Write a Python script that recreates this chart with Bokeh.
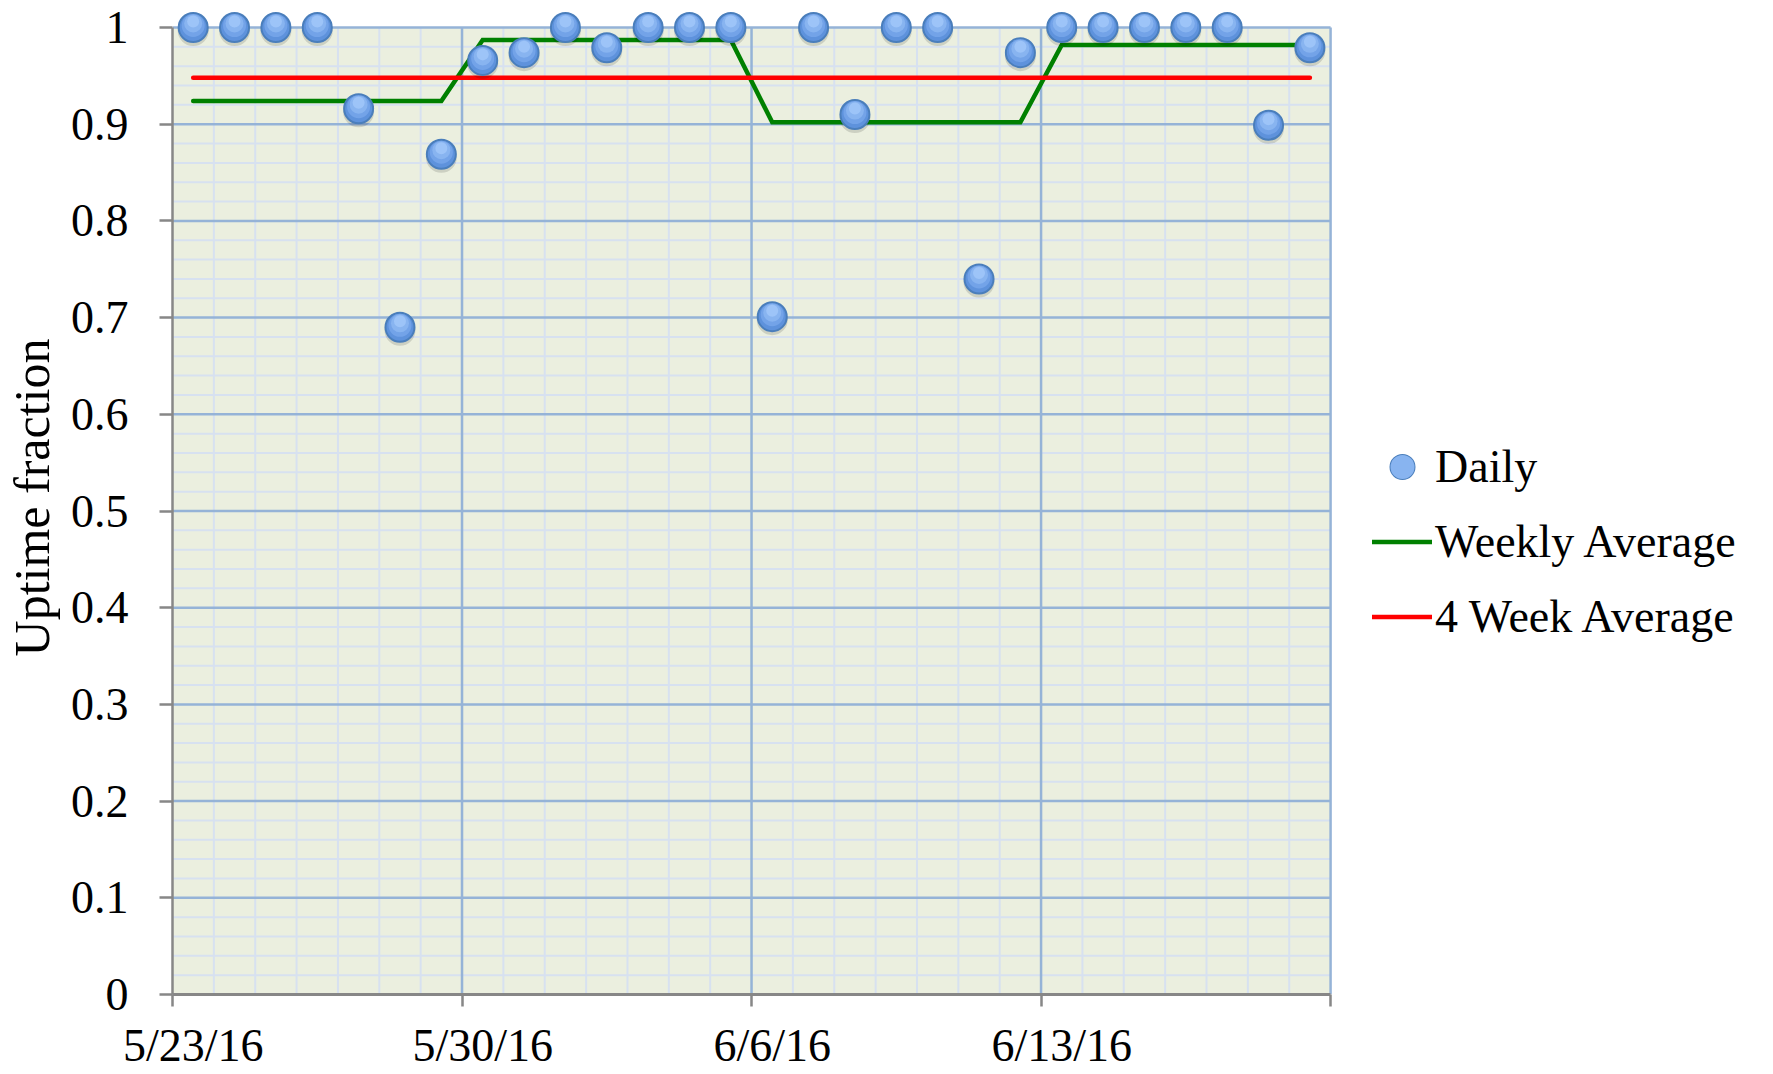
from bokeh.plotting import figure
from bokeh.models import Range1d, FixedTicker, LinearAxis, Legend, LegendItem
from bokeh.embed import file_html
from bokeh.resources import INLINE

# ---------------- data ----------------
dates = ["5/23/16", "5/24/16", "5/25/16", "5/26/16", "5/27/16", "5/28/16", "5/29/16",
         "5/30/16", "5/31/16", "6/1/16", "6/2/16", "6/3/16", "6/4/16", "6/5/16",
         "6/6/16", "6/7/16", "6/8/16", "6/9/16", "6/10/16", "6/11/16", "6/12/16",
         "6/13/16", "6/14/16", "6/15/16", "6/16/16", "6/17/16", "6/18/16", "6/19/16"]

daily_uptime = [1.0, 1.0, 1.0, 1.0, 0.916, 0.690, 0.869,
                0.966, 0.974, 1.0, 0.979, 1.0, 1.0, 1.0,
                0.701, 1.0, 0.910, 1.0, 1.0, 0.740, 0.974,
                1.0, 1.0, 1.0, 1.0, 1.0, 0.899, 0.979]

weekly_average = [0.924, 0.924, 0.924, 0.924, 0.924, 0.924, 0.924,
                  0.987, 0.987, 0.987, 0.987, 0.987, 0.987, 0.987,
                  0.902, 0.902, 0.902, 0.902, 0.902, 0.902, 0.902,
                  0.982, 0.982, 0.982, 0.982, 0.982, 0.982, 0.982]

four_week_average = [0.948, 0.948, 0.948, 0.948, 0.948, 0.948, 0.948,
                     0.948, 0.948, 0.948, 0.948, 0.948, 0.948, 0.948,
                     0.948, 0.948, 0.948, 0.948, 0.948, 0.948, 0.948,
                     0.948, 0.948, 0.948, 0.948, 0.948, 0.948, 0.948]

x_tick_labels = ["5/23/16", "5/30/16", "6/6/16", "6/13/16"]
y_tick_values = [0, 0.1, 0.2, 0.3, 0.4, 0.5, 0.6, 0.7, 0.8, 0.9, 1]
y_tick_labels = ["0", "0.1", "0.2", "0.3", "0.4", "0.5", "0.6", "0.7", "0.8", "0.9", "1"]

# ---------------- layout ----------------
W, H = 1773, 1074
LEFT, BOTTOM = 172, 80
frame_w = W - LEFT
frame_h = H - BOTTOM
day_px = 41.36
unit_px = 967.0
n_days = len(dates)
x_end = frame_w / day_px
y_end = frame_h / unit_px

FONT = "Liberation Serif"
AXIS_GRAY = "#878787"
PLOT_BG = "#EBEFDF"
MINOR_GRID = "#D7E1F0"
MAJOR_GRID = "#95B3D7"

x = [i + 0.5 for i in range(n_days)]

p = figure(width=W, height=H, x_range=Range1d(0, x_end), y_range=Range1d(0, y_end),
           output_backend="svg", toolbar_location=None,
           x_axis_type=None, y_axis_type=None,
           min_border_left=LEFT, min_border_right=0, min_border_top=0,
           min_border_bottom=BOTTOM,
           background_fill_color="white", border_fill_color="white",
           outline_line_color=None)

# plot area background
p.quad(left=[0], right=[n_days], bottom=[0], top=[1],
       fill_color=PLOT_BG, line_color=None)

# grid lines (minor then major)
week_bounds = [d for d in range(0, n_days + 1, 7)]
minor_vx = [d for d in range(1, n_days) if d % 7 != 0]
major_vx = [d for d in week_bounds if d > 0]
minor_hy = [k / 50 for k in range(1, 50) if k % 5 != 0]
major_hy = [v for v in y_tick_values if v > 0]

p.segment(x0=minor_vx, x1=minor_vx, y0=[0] * len(minor_vx), y1=[1] * len(minor_vx),
          line_color=MINOR_GRID, line_width=2)
p.segment(x0=[0] * len(minor_hy), x1=[n_days] * len(minor_hy), y0=minor_hy, y1=minor_hy,
          line_color=MINOR_GRID, line_width=2)
p.segment(x0=[0] * len(major_hy), x1=[n_days] * len(major_hy), y0=major_hy, y1=major_hy,
          line_color=MAJOR_GRID, line_width=2.5)
p.segment(x0=major_vx, x1=major_vx, y0=[0] * len(major_vx), y1=[1] * len(major_vx),
          line_color=MAJOR_GRID, line_width=2.5)

# lines
green = p.line(x, weekly_average, line_color="#008000", line_width=4.5,
               line_cap="round", line_join="miter")
red = p.line(x, four_week_average, line_color="#FF0000", line_width=4.5,
             line_cap="round")

# markers (layered to imitate the gradient bubble)
def off(px):
    return [v + px / unit_px for v in daily_uptime]

p.scatter(x, off(-3), size=31, marker="circle", fill_color="black", fill_alpha=0.13,
          line_color=None)
base = p.scatter(x, daily_uptime, size=29, marker="circle", fill_color="#5E92DC",
                 line_color="#4A7EBB", line_width=2)
p.scatter(x, off(2), size=23, marker="circle", fill_color="#73A3E8", line_color=None)
l3 = p.scatter(x, off(4), size=18, marker="circle", fill_color="#88B4F0", line_color=None)
p.scatter(x, off(6), size=12, marker="circle", fill_color="#9DC4F8", line_color=None)

# ---------------- axes ----------------
y_over = {}
for v, lab in zip(y_tick_values, y_tick_labels):
    y_over[v] = lab
    y_over[str(v)] = lab

yaxis = LinearAxis(ticker=FixedTicker(ticks=y_tick_values, minor_ticks=[]), bounds=(0, 1),
                   major_label_overrides=y_over,
                   axis_label="Uptime fraction",
                   axis_label_text_font=FONT, axis_label_text_font_size="50px",
                   axis_label_text_font_style="normal", axis_label_text_color="black",
                   axis_label_standoff=8,
                   major_label_text_font=FONT, major_label_text_font_size="46px",
                   major_label_text_color="black", major_label_standoff=31,
                   axis_line_color=AXIS_GRAY, axis_line_width=2.5,
                   major_tick_line_color=AXIS_GRAY, major_tick_line_width=2.5,
                   major_tick_out=13, major_tick_in=0,
                   minor_tick_line_color=None)
p.add_layout(yaxis, "left")

# x axis: labels centred on the labelled day, ticks on week boundaries
label_pos = [dates.index(l) + 0.5 for l in x_tick_labels]
x_over = {}
for v, lab in zip(label_pos, x_tick_labels):
    x_over[v] = lab
    x_over[str(v)] = lab

xaxis = LinearAxis(ticker=FixedTicker(ticks=label_pos, minor_ticks=week_bounds),
                   bounds=(0, n_days),
                   major_label_overrides=x_over,
                   major_label_text_font=FONT, major_label_text_font_size="46px",
                   major_label_text_color="black", major_label_standoff=13,
                   axis_line_color=AXIS_GRAY, axis_line_width=3,
                   major_tick_line_color=None, major_tick_out=0, major_tick_in=0,
                   minor_tick_line_color=AXIS_GRAY, minor_tick_line_width=2.5,
                   minor_tick_out=12, minor_tick_in=0)
p.add_layout(xaxis, "below")

# ---------------- legend ----------------
legend = Legend(items=[LegendItem(label="Daily", renderers=[base, l3]),
                       LegendItem(label="Weekly Average", renderers=[green]),
                       LegendItem(label="4 Week Average", renderers=[red])],
                location=(1200, 345), orientation="vertical",
                border_line_color=None, background_fill_alpha=0,
                padding=0, margin=0, spacing=10,
                glyph_width=60, glyph_height=65, label_standoff=3,
                label_text_font=FONT, label_text_font_size="46px",
                label_text_color="black")
p.add_layout(legend)

open("out.html", "w").write(file_html(p, INLINE))
